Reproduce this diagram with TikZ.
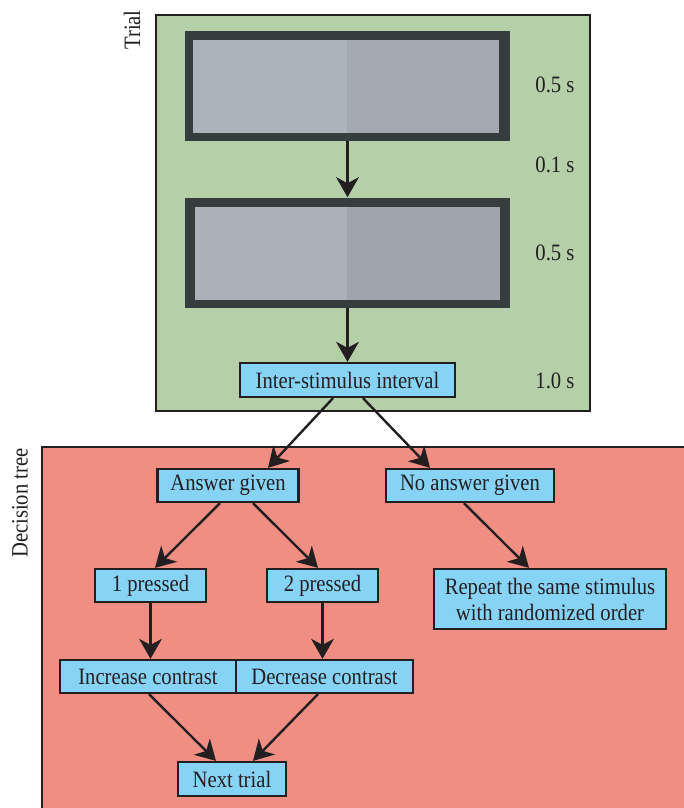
\documentclass[tikz,border=0pt]{standalone}
\usepackage{fontspec}
\setmainfont{Liberation Serif}[FakeStretch=0.88]
\usetikzlibrary{arrows.meta,calc}
\definecolor{trialgreen}{HTML}{B5CFA8}
\definecolor{treered}{HTML}{F08E84}
\definecolor{boxblue}{HTML}{87D3F5}
\definecolor{stimedge}{HTML}{353D3E}
\definecolor{stimAleft}{HTML}{ACB4BB}
\definecolor{stimAright}{HTML}{A2A9B1}
\definecolor{stimBleft}{HTML}{AAB1B8}
\definecolor{stimBright}{HTML}{9EA5AD}
\definecolor{inkc}{HTML}{231F20}
\begin{document}
\begin{tikzpicture}[x=0.75pt,y=-0.75pt,
  lbl/.style={font=\fontsize{17.6}{19.5}\selectfont, text=inkc},
  decbox/.style={draw=inkc, line width=1.7pt, fill=boxblue, inner sep=0pt, lbl},
  conn/.style={draw=inkc, line width=1.8pt, -{Stealth[length=15pt,width=17pt,inset=4.5pt]}},
  panel/.style={draw=inkc, line width=1.5pt},
  stim/.style={fill=stimedge, inner sep=0pt, minimum width=243.75pt, minimum height=82.5pt}]
\useasboundingbox (0,0) rectangle (683,808);
% panels
\path[panel, fill=trialgreen] (156,15) rectangle (590,411);
\path[panel, fill=treered] (42,447) rectangle (700,830);
\node[lbl, rotate=90] (triallbl) at (132,30) {Trial};
\node[lbl, rotate=90] (treelbl) at (20,503) {Decision tree};
% stimuli
\node[stim] (s1) at (347.5,86) {};
\fill[stimAleft] (193,40) rectangle (347,133);
\fill[stimAright] (347,40) rectangle (499,133);
\node[stim] (s2) at (347.5,252.5) {};
\fill[stimBleft] (195,207) rectangle (347,300);
\fill[stimBright] (347,207) rectangle (500,300);
% time labels
\node[lbl] (t1) at (555,85) {0.5 s};
\node[lbl] (t2) at (555,165) {0.1 s};
\node[lbl] (t3) at (555,253) {0.5 s};
\node[lbl] (t4) at (555,381) {1.0 s};
% boxes
\node[decbox, minimum width=161.25pt, minimum height=25.5pt] (isi) at (347.5,380) {Inter-stimulus interval};
\node[decbox, minimum width=105.75pt, minimum height=24.75pt] (ans) at (228,485.5) {Answer given};
\node[decbox, minimum width=126pt, minimum height=24.75pt] (noans) at (470,485.5) {No answer given};
\node[decbox, minimum width=83.25pt, minimum height=24.75pt] (p1) at (150.5,585.5) {1 pressed};
\node[decbox, minimum width=83.25pt, minimum height=24.75pt] (p2) at (322.5,585.5) {2 pressed};
\node[decbox, minimum width=174pt, minimum height=45pt, align=center] (rep) at (550,599) {Repeat the same stimulus\\with randomized order};
\node[decbox, minimum width=132pt, minimum height=24.75pt] (inc) at (148,676.5) {Increase contrast};
\node[decbox, minimum width=132.75pt, minimum height=24.75pt] (dec) at (324.5,676.5) {Decrease contrast};
\node[decbox, minimum width=81pt, minimum height=25.5pt] (next) at (232,779) {Next trial};
% connectors
\draw[conn] (s1.south) -- (s2.north);
\draw[conn] (s2.south) -- (isi.north);
\draw[conn] ($(isi.south)+(-14.5,0)$) -- ($(ans.north)+(40,0)$);
\draw[conn] ($(isi.south)+(15.5,0)$) -- ($(noans.north)+(-40,0)$);
\draw[conn] ($(ans.south)+(-8,0)$) -- ($(p1.north)+(4.5,0)$);
\draw[conn] ($(ans.south)+(25,0)$) -- ($(p2.north)+(-4.5,0)$);
\draw[conn] ($(noans.south)+(-6,0)$) -- ($(rep.north)+(-21,0)$);
\draw[conn] (p1.south) -- (p1.south |- inc.north);
\draw[conn] (p2.south) -- (p2.south |- dec.north);
\draw[conn] ($(inc.south)+(1,0)$) -- ($(next.north)+(-16,0)$);
\draw[conn] ($(dec.south)+(-6.5,0)$) -- ($(next.north)+(21,0)$);
\end{tikzpicture}
\end{document}
